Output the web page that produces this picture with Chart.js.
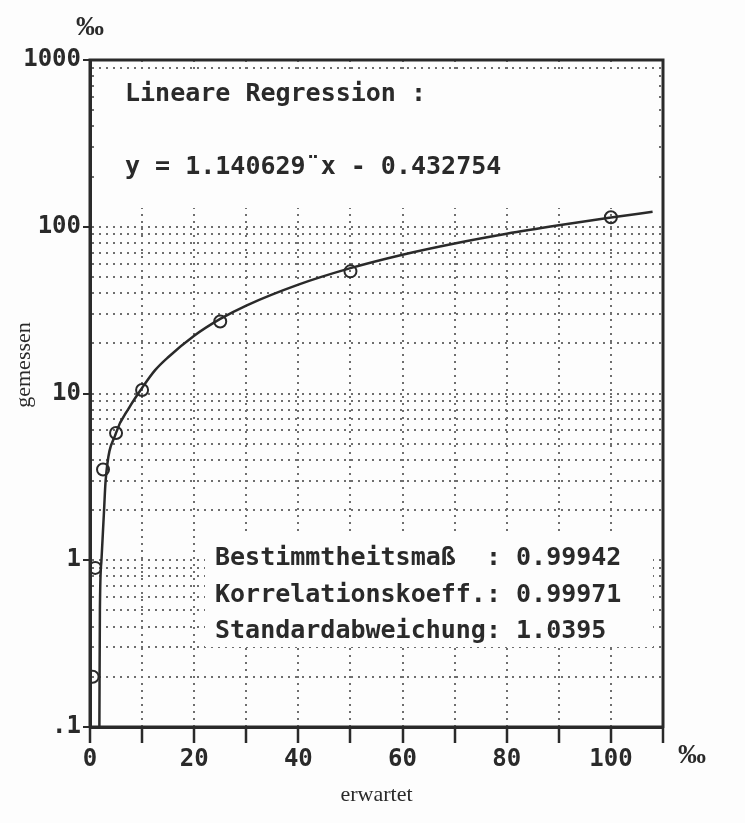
<!DOCTYPE html>
<html>
<head>
<meta charset="utf-8">
<script src="https://cdn.jsdelivr.net/npm/chart.js@4/dist/chart.umd.min.js"></script>
<style>
  html, body { margin: 0; padding: 0; background: #fdfdfd; }
  #wrap { width: 745px; height: 823px; }
</style>
</head>
<body>
<div id="wrap"><canvas id="chart" width="745" height="823"></canvas></div>
<script>
// measured points (expected vs measured, per mille)
var expected = [0.5, 1, 2.5, 5, 10, 25, 50, 100];
var measured = [0.2, 0.9, 3.5, 5.8, 10.5, 27, 54, 114];

// regression curve
var curveX = [1.8, 1.9, 2.2, 2.7, 3.0, 5, 7.5, 10, 12.5, 15, 20, 25, 30, 40, 50, 60, 70, 80, 90, 100, 108];
var curveY = [0.1, 0.5, 1.0, 2.0, 3.0, 5.8, 8.2, 10.8, 13.8, 16.5, 22.2, 28, 33.7, 45, 56.5, 68, 79.4, 90.8, 102, 113.5, 123];

// axis ticks
var yDecades = [0.1, 1, 10, 100, 1000];
var yDecadeLabels = ['.1', '1', '10', '100', '1000'];
var yMinorSteps = [2, 3, 4, 5, 6, 7, 8, 9];
var xLabelled = [0, 20, 40, 60, 80, 100];

var textTop = ['Lineare Regression :', 'y = 1.140629\u00A8x - 0.432754'];
var textBottom = ['Bestimmtheitsma\u00DF  : 0.99942', 'Korrelationskoeff.: 0.99971', 'Standardabweichung: 1.0395'];

var ink = '#2a2a2a';
var gridCol = '#6e6e6e';
var paper = '#fdfdfd';
var mono = "bold 25px 'DejaVu Sans Mono', monospace";
var serif = "'Liberation Serif', 'DejaVu Serif', serif";

function toPoints(xs, ys) {
    let pts = [];
    xs.forEach(function(x, i) { pts.push({ x: x, y: ys[i] }); });
    return pts;
}

function isDecade(v) {
    return yDecades.some(function(d) { return Math.abs(d - v) < d * 1e-6; });
}

const frame = {
    id: 'frame',
    beforeDatasetsDraw(chart) {
        // the text boxes blank out the grid behind them
        const ctx = chart.ctx;
        ctx.save();
        ctx.fillStyle = paper;
        ctx.fillRect(97, 72, 562, 136);
        ctx.fillRect(205, 535, 448, 112);
        ctx.restore();
    },
    afterDraw(chart) {
        const ctx = chart.ctx;
        const a = chart.chartArea;
        ctx.save();
        // box round the plot
        ctx.strokeStyle = ink;
        ctx.lineWidth = 3;
        ctx.setLineDash([]);
        ctx.strokeRect(a.left, a.top, a.right - a.left, a.bottom - a.top);

        ctx.fillStyle = ink;
        ctx.font = mono;
        ctx.textBaseline = 'middle';
        ctx.textAlign = 'left';
        ctx.fillText(textTop[0], 125, 94);
        ctx.fillText(textTop[1], 125, 167);
        ctx.fillText(textBottom[0], 215, 558);
        ctx.fillText(textBottom[1], 215, 595);
        ctx.fillText(textBottom[2], 215, 631);

        // units
        ctx.font = 'bold 28px ' + serif;
        ctx.textAlign = 'center';
        ctx.fillText('\u2030', 90, 28);
        ctx.fillText('\u2030', 692, 756);

        // y title, rotated
        ctx.font = '22px ' + serif;
        ctx.translate(24, 365);
        ctx.rotate(-Math.PI / 2);
        ctx.fillText('gemessen', 0, 0);
        ctx.restore();
    }
};

new Chart(document.getElementById('chart'), {
    type: 'scatter',
    data: {
        datasets: [
            {
                label: 'gemessen',
                data: toPoints(expected, measured),
                pointStyle: 'circle',
                pointRadius: 6,
                borderWidth: 2,
                borderColor: ink,
                backgroundColor: 'rgba(0,0,0,0)'
            },
            {
                label: 'Regression',
                data: toPoints(curveX, curveY),
                showLine: true,
                pointRadius: 0,
                borderWidth: 2.5,
                borderColor: ink,
                cubicInterpolationMode: 'monotone'
            }
        ]
    },
    options: {
        responsive: false,
        animation: false,
        layout: { padding: { left: 0, top: 60, right: 82, bottom: 0 } },
        plugins: {
            legend: { display: false },
            tooltip: { enabled: false }
        },
        scales: {
            x: {
                type: 'linear',
                min: 0,
                max: 110,
                afterFit: function(scale) { scale.height = 96; },
                afterBuildTicks: function(scale) {
                    let t = [];
                    for (let v = 0; v <= 110; v += 10) t.push({ value: v });
                    scale.ticks = t;
                },
                ticks: {
                    autoSkip: false,
                    maxRotation: 0,
                    padding: 2,
                    color: ink,
                    font: { family: 'DejaVu Sans Mono', size: 24, weight: 'bold' },
                    callback: function(v) { return xLabelled.indexOf(v) >= 0 ? String(v) : ''; }
                },
                grid: {
                    color: function(c) { return (c.tick && c.tick.value > 0 && c.tick.value < 110) ? gridCol : 'rgba(0,0,0,0)'; },
                    tickColor: ink,
                    tickLength: 16,
                    tickWidth: 2.5,
                    lineWidth: 2
                },
                border: { display: true, color: ink, width: 3, dash: [2, 5] },
                title: {
                    display: true,
                    text: 'erwartet',
                    color: ink,
                    font: { family: 'Liberation Serif', size: 22 },
                    padding: { top: 0, bottom: 15 }
                }
            },
            y: {
                type: 'logarithmic',
                min: 0.1,
                max: 1000,
                afterFit: function(scale) { scale.width = 90; },
                afterBuildTicks: function(scale) {
                    let t = [];
                    yDecades.forEach(function(d, i) {
                        t.push({ value: d, major: true });
                        if (i < yDecades.length - 1) {
                            yMinorSteps.forEach(function(k) { t.push({ value: d * k }); });
                        }
                    });
                    scale.ticks = t;
                },
                ticks: {
                    autoSkip: false,
                    padding: 2,
                    color: ink,
                    font: { family: 'DejaVu Sans Mono', size: 24, weight: 'bold' },
                    callback: function(v) {
                        let i = yDecades.findIndex(function(d) { return Math.abs(d - v) < d * 1e-6; });
                        return i >= 0 ? yDecadeLabels[i] : '';
                    }
                },
                grid: {
                    color: function(c) { return (c.tick && c.tick.value > 0.1 && c.tick.value < 1000) ? gridCol : 'rgba(0,0,0,0)'; },
                    tickColor: function(c) { return (c.tick && isDecade(c.tick.value)) ? ink : 'rgba(0,0,0,0)'; },
                    tickLength: 7,
                    tickWidth: 2,
                    lineWidth: 2
                },
                border: { display: true, color: ink, width: 3, dash: [2, 5] },
                title: { display: false }
            }
        }
    },
    plugins: [frame]
});
</script>
</body>
</html>
